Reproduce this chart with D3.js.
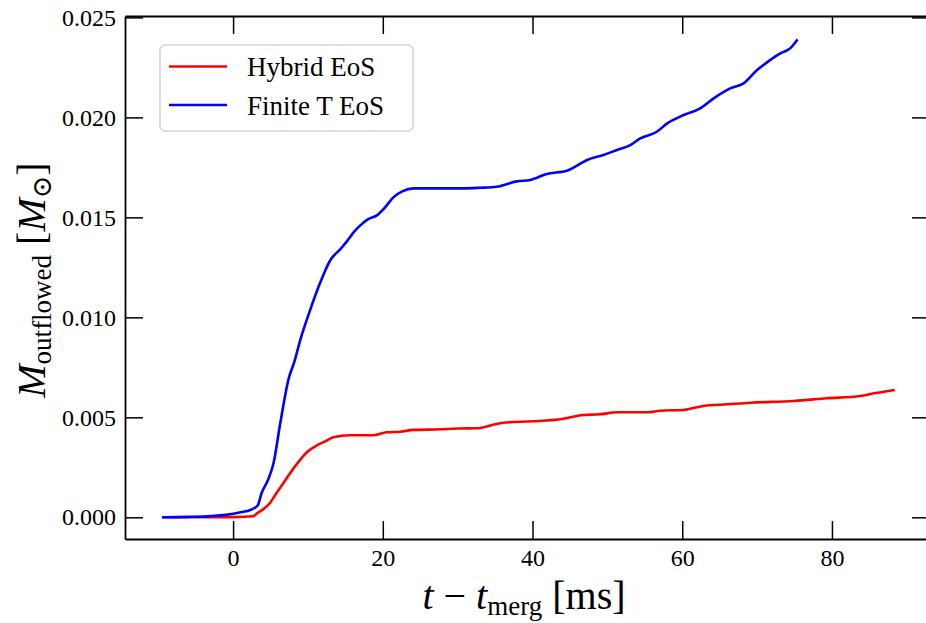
<!DOCTYPE html>
<html>
<head>
<script src="https://d3js.org/d3.v7.min.js"></script>
<style>
body { margin: 0; background: #fff; }
text { font-family: "Liberation Serif", "DejaVu Serif", serif; fill: #000; }
</style>
</head>
<body>
<svg id="chart" width="926" height="623"></svg>
<script>
// Hybrid EoS (red)
const hybridT = [-9.5, -5, 0, 2.7, 3.2, 3.9, 4.9, 5.6, 6.7, 7.8, 8.95, 10, 11.2, 12.3, 13.4, 15.6, 18.7, 20.5, 22.3, 24.1, 27.7, 30, 32.6, 34.5, 36.1, 40, 43.7, 46.8, 49.0, 51.3, 55.3, 57.1, 60.2, 62.8, 66, 69.1, 74.9, 79.3, 83.8, 85.6, 88.4]
const hybridM = [0, 0, 0.00001, 0.00005, 0.0002, 0.00037, 0.0007, 0.0011, 0.0017, 0.0023, 0.00287, 0.0033, 0.0036, 0.0038, 0.004, 0.0041, 0.0041, 0.00425, 0.00428, 0.00437, 0.0044, 0.00444, 0.00445, 0.0046, 0.00473, 0.0048, 0.0049, 0.00512, 0.00515, 0.00525, 0.00525, 0.00533, 0.00537, 0.00557, 0.00565, 0.00573, 0.00582, 0.00595, 0.00607, 0.0062, 0.00637]

// Finite T EoS (blue)
const finiteT = [-9.5, -6, -3, -1, 1, 2.5, 3.3, 3.8, 4.7, 5.4, 6.3, 7.4, 8.2, 9.0, 10.3, 11.6, 13.0, 14.3, 15.2, 16.2, 17.0, 18.0, 19.2, 20.3, 21.4, 22.6, 24.1, 26, 28, 30.8, 33, 35.2, 37.9, 39.7, 41.9, 44.6, 46, 47.3, 49.5, 51.3, 53, 54.4, 56.6, 58.0, 60.2, 62.4, 64.2, 66.4, 68.2, 70.0, 71.5, 73.1, 74.4, 75.4]
const finiteM = [0, 0.00002, 0.00006, 0.00012, 0.00025, 0.0004, 0.0006, 0.0012, 0.0019, 0.0027, 0.0047, 0.0069, 0.0078, 0.0089, 0.01037, 0.0117, 0.01287, 0.0134, 0.0138, 0.0143, 0.0146, 0.0149, 0.0151, 0.0155, 0.016, 0.0163, 0.01645, 0.01645, 0.01645, 0.01645, 0.01648, 0.01653, 0.0168, 0.01687, 0.01717, 0.01733, 0.0176, 0.01787, 0.01812, 0.01837, 0.0186, 0.01895, 0.01928, 0.0197, 0.02012, 0.02045, 0.02095, 0.02145, 0.0217, 0.02237, 0.0228, 0.0232, 0.02345, 0.0239]

const xTicks = [0, 20, 40, 60, 80]
const yTicks = [0, 0.005, 0.010, 0.015, 0.020, 0.025]

const series = [
    {name: "Hybrid EoS", color: "#ff0000", t: hybridT, m: hybridM},
    {name: "Finite T EoS", color: "#0000ff", t: finiteT, m: finiteM}
]

const svg = d3.select("#chart")
const plotL = 125, plotR = 930, plotT = 16, plotB = 539

const x = d3.scaleLinear().domain([-14.44, 93.1]).range([plotL, plotR])
const y = d3.scaleLinear().domain([-0.001085, 0.02507]).range([plotB, plotT])

// lines
const line = d3.line()
    .x(d => x(d[0]))
    .y(d => y(d[1]))
    .curve(d3.curveMonotoneX)

series.forEach(s => {
    svg.append("path")
        .datum(s.t.map((t, i) => [t, s.m[i]]))
        .attr("d", line)
        .attr("fill", "none")
        .attr("stroke", s.color)
        .attr("stroke-width", 2.6)
        .attr("stroke-linejoin", "round")
})

// axes with inward ticks on all four sides
const tickLen = 18
svg.append("g").attr("transform", `translate(0,${plotB})`)
    .call(d3.axisBottom(x).tickValues(xTicks).tickSizeInner(-tickLen).tickSizeOuter(0).tickPadding(10).tickFormat(d3.format("d")))
svg.append("g").attr("transform", `translate(0,${plotT})`)
    .call(d3.axisTop(x).tickValues(xTicks).tickSizeInner(-tickLen).tickSizeOuter(0).tickFormat(""))
svg.append("g").attr("transform", `translate(${plotL},0)`)
    .call(d3.axisLeft(y).tickValues(yTicks).tickSizeInner(-tickLen).tickSizeOuter(0).tickPadding(9).tickFormat(d3.format(".3f")))
svg.append("g").attr("transform", `translate(${plotR},0)`)
    .call(d3.axisRight(y).tickValues(yTicks).tickSizeInner(-tickLen).tickSizeOuter(0).tickFormat(""))

svg.selectAll(".domain").attr("stroke", "#000").attr("stroke-width", 1.8)
svg.selectAll(".tick line").attr("stroke", "#000").attr("stroke-width", 1.5)
svg.selectAll(".tick text")
    .style("font-family", "'Liberation Serif', serif")
    .style("font-size", "24px")
    .attr("fill", "#000")

// x label
const xl = svg.append("text")
    .attr("x", 524).attr("y", 609)
    .attr("text-anchor", "middle")
    .attr("font-size", 40)
xl.append("tspan").attr("font-style", "italic").text("t")
xl.append("tspan").text(" \u2212 ")
xl.append("tspan").attr("font-style", "italic").text("t")
xl.append("tspan").attr("font-size", 27).attr("dy", 6).text("merg")
xl.append("tspan").attr("dy", -6).text(" [ms]")

// y label
const yl = svg.append("text")
    .attr("transform", "translate(45,280) rotate(-90)")
    .attr("text-anchor", "middle")
    .attr("font-size", 40)
yl.append("tspan").attr("font-style", "italic").text("M")
yl.append("tspan").attr("font-size", 27).attr("dy", 6).text("outflowed")
yl.append("tspan").attr("dy", -6).text(" [")
yl.append("tspan").attr("font-style", "italic").text("M")
yl.append("tspan").attr("font-size", 27).attr("dy", 6).text("\u2299")
yl.append("tspan").attr("dy", -6).text("]")

// legend
const lg = svg.append("g")
lg.append("rect")
    .attr("x", 160).attr("y", 45).attr("width", 253).attr("height", 86)
    .attr("rx", 5).attr("fill", "#fff").attr("stroke", "#d4d4d4").attr("stroke-width", 1.5)
series.forEach((s, i) => {
    const ly = 66.5 + i * 38.5
    lg.append("line")
        .attr("x1", 169).attr("x2", 227).attr("y1", ly).attr("y2", ly)
        .attr("stroke", s.color).attr("stroke-width", 2.6)
    lg.append("text")
        .attr("x", 247).attr("y", ly + 9.5)
        .attr("font-size", 27)
        .text(s.name)
})
</script>
</body>
</html>
